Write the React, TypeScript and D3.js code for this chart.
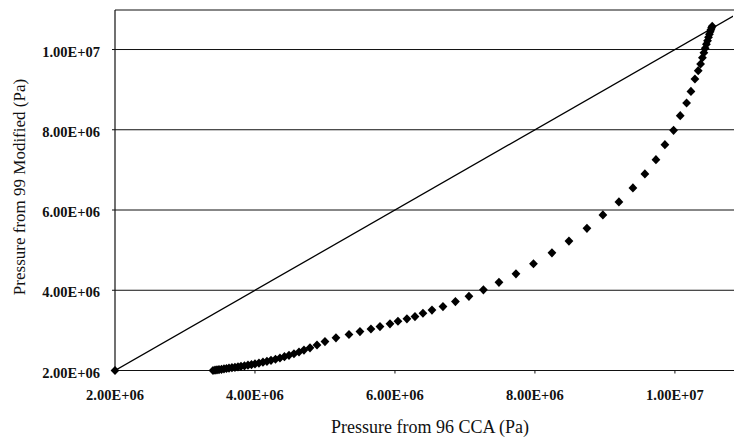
import React from "react";
import * as d3 from "d3";

// Pressure values in Pa
const cca96: number[] = [
  3.400e6, 3.429e6, 3.457e6, 3.486e6, 3.521e6, 3.557e6, 3.593e6, 3.629e6, 3.671e6, 3.714e6,
  3.757e6, 3.800e6, 3.850e6, 3.900e6, 3.950e6, 4.000e6, 4.057e6, 4.114e6, 4.171e6, 4.229e6,
  4.293e6, 4.357e6, 4.421e6, 4.486e6, 4.557e6, 4.629e6, 4.700e6, 4.786e6, 4.886e6, 5.000e6,
  5.157e6, 5.343e6, 5.500e6, 5.657e6, 5.786e6, 5.929e6, 6.043e6, 6.171e6, 6.286e6, 6.400e6,
  6.529e6, 6.686e6, 6.864e6, 7.057e6, 7.264e6, 7.486e6, 7.729e6, 7.979e6, 8.243e6, 8.486e6,
  8.743e6, 8.971e6, 9.200e6, 9.400e6, 9.571e6, 9.729e6, 9.857e6, 9.981e6, 10.076e6, 10.167e6,
  10.229e6, 10.286e6, 10.333e6, 10.367e6, 10.393e6, 10.414e6, 10.433e6, 10.450e6, 10.466e6, 10.480e6,
  10.493e6, 10.504e6, 10.514e6, 10.524e6, 10.533e6,
];
const modified99: number[] = [
  2.000e6, 2.007e6, 2.015e6, 2.022e6, 2.030e6, 2.040e6, 2.050e6, 2.060e6, 2.070e6, 2.080e6,
  2.092e6, 2.105e6, 2.117e6, 2.132e6, 2.147e6, 2.164e6, 2.184e6, 2.207e6, 2.229e6, 2.254e6,
  2.281e6, 2.311e6, 2.344e6, 2.379e6, 2.418e6, 2.461e6, 2.508e6, 2.565e6, 2.635e6, 2.722e6,
  2.814e6, 2.897e6, 2.971e6, 3.034e6, 3.096e6, 3.163e6, 3.228e6, 3.288e6, 3.345e6, 3.427e6,
  3.507e6, 3.594e6, 3.719e6, 3.848e6, 4.010e6, 4.197e6, 4.409e6, 4.660e6, 4.932e6, 5.225e6,
  5.544e6, 5.878e6, 6.202e6, 6.550e6, 6.899e6, 7.255e6, 7.629e6, 7.985e6, 8.351e6, 8.667e6,
  8.956e6, 9.265e6, 9.472e6, 9.639e6, 9.796e6, 9.920e6, 10.032e6, 10.132e6, 10.219e6, 10.306e6,
  10.381e6, 10.443e6, 10.493e6, 10.543e6, 10.580e6,
];
// y = x reference line
const refLine: [number, number][] = [
  [2.0e6, 2.0e6],
  [1.1e7, 1.1e7],
];
const refMarker: [number, number][] = [[2.0e6, 2.0e6]];

const xTicks: number[] = [2e6, 4e6, 6e6, 8e6, 1e7];
const yTicks: number[] = [2e6, 4e6, 6e6, 8e6, 1e7];
const xTickLabels: string[] = ["2.00E+06", "4.00E+06", "6.00E+06", "8.00E+06", "1.00E+07"];
const yTickLabels: string[] = ["2.00E+06", "4.00E+06", "6.00E+06", "8.00E+06", "1.00E+07"];
const xTitle = "Pressure from 96 CCA (Pa)";
const yTitle = "Pressure from 99 Modified (Pa)";

const W = 734;
const H = 440;
const L = 115;
const R = 733;
const T = 10;
const B = 370.5;

export default function App() {
  const x = d3.scaleLinear().domain([2e6, 1.083e7]).range([L, R]);
  const y = d3.scaleLinear().domain([2e6, 1.0985e7]).range([B, T]);
  const line = d3
    .line<[number, number]>()
    .x((d) => x(d[0]))
    .y((d) => y(d[1]));
  const diamond = "M0,-4.6L4.4,0L0,4.6L-4.4,0Z";
  const font = "'Liberation Serif', 'Times New Roman', serif";
  const pts = cca96.map((v, i) => [v, modified99[i]] as [number, number]);

  return (
    <svg
      width={W}
      height={H}
      style={{ position: "absolute", left: 0, top: 0, background: "#fff" }}
    >
      <defs>
        <clipPath id="plotclip">
          <rect x={L} y={T} width={R - L} height={B - T} />
        </clipPath>
      </defs>
      <rect x={0} y={0} width={W} height={H} fill="#fff" />
      {/* gridlines */}
      {yTicks.slice(1).map((t) => (
        <line key={t} x1={L} x2={R + 1} y1={y(t)} y2={y(t)} stroke="#111" strokeWidth={1} />
      ))}
      {/* top border */}
      <line x1={L} x2={R + 1} y1={T} y2={T} stroke="#111" strokeWidth={1.2} />
      {/* axes */}
      <line x1={L} x2={L} y1={T} y2={B} stroke="#111" strokeWidth={1.2} />
      <line x1={L} x2={R + 1} y1={B} y2={B} stroke="#111" strokeWidth={1.2} />
      {xTicks.map((t) => (
        <line key={t} x1={x(t)} x2={x(t)} y1={B} y2={B + 3} stroke="#111" strokeWidth={1} />
      ))}
      {yTicks.map((t) => (
        <line key={t} x1={L - 3} x2={L} y1={y(t)} y2={y(t)} stroke="#111" strokeWidth={1} />
      ))}
      {/* reference line */}
      <g clipPath="url(#plotclip)">
        <path d={line(refLine) || ""} fill="none" stroke="#000" strokeWidth={1.3} />
      </g>
      {refMarker.map((d, i) => (
        <path key={i} d={diamond} transform={`translate(${x(d[0])},${y(d[1])})`} fill="#000" />
      ))}
      {/* data */}
      {pts.map((d, i) => (
        <path key={i} d={diamond} transform={`translate(${x(d[0])},${y(d[1])})`} fill="#000" />
      ))}
      {/* tick labels */}
      {xTicks.map((t, i) => (
        <text
          key={t}
          x={x(t)}
          y={400}
          textAnchor="middle"
          fontFamily={font}
          fontWeight="bold"
          fontSize={14.5}
          fill="#111"
        >
          {xTickLabels[i]}
        </text>
      ))}
      {yTicks.map((t, i) => (
        <text
          key={t}
          x={100}
          y={y(t) + 7}
          textAnchor="end"
          fontFamily={font}
          fontWeight="bold"
          fontSize={14.5}
          fill="#111"
        >
          {yTickLabels[i]}
        </text>
      ))}
      {/* titles */}
      <text x={430} y={433} textAnchor="middle" fontFamily={font} fontSize={18} fill="#111">
        {xTitle}
      </text>
      <text
        transform={`translate(25,187) rotate(-90)`}
        textAnchor="middle"
        fontFamily={font}
        fontSize={17}
        fill="#111"
      >
        {yTitle}
      </text>
    </svg>
  );
}
